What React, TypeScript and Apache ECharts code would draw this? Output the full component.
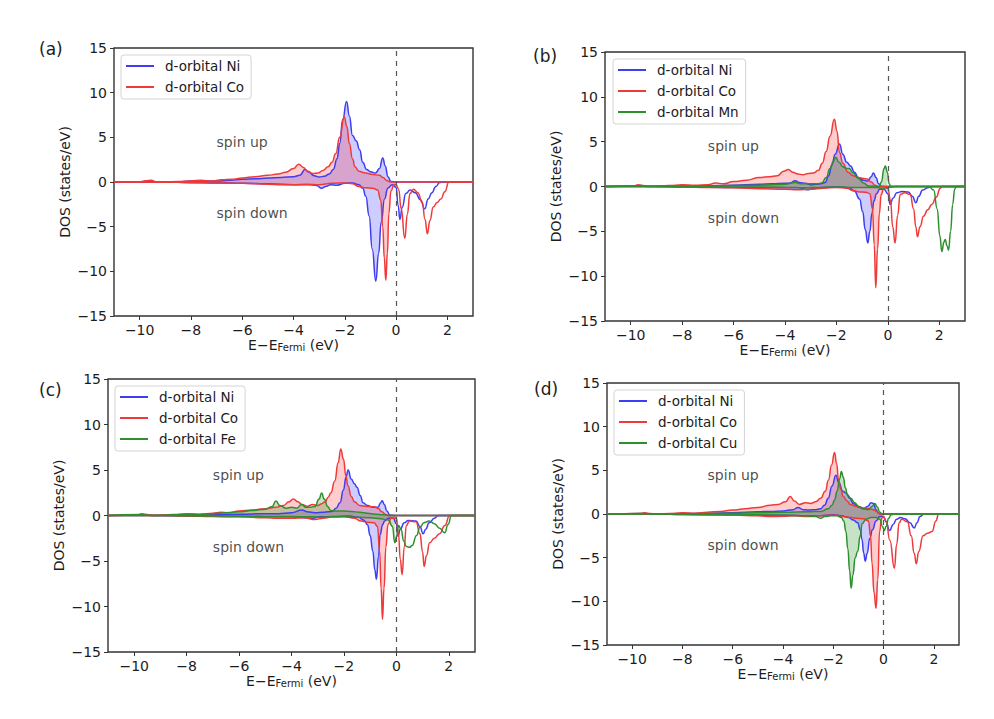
import React, { useEffect, useRef } from "react";
import * as echarts from "echarts";

// ---- projected d-orbital DOS, [E - E_Fermi (eV), DOS (states/eV)] ----

// (a) NiCo
const aNiUp = [[-11,0],[-10.0,0],[-9.7,0.08],[-9.5,0.05],[-9.2,0],[-8.5,0.02],[-8.0,0.1],[-7.5,0.12],[-7.0,0.1],[-6.5,0.2],[-6.0,0.3],[-5.5,0.35],[-5.0,0.45],[-4.5,0.5],[-4.0,0.6],[-3.75,0.75],[-3.55,1.4],[-3.4,1.1],[-3.2,0.7],[-3.0,0.55],[-2.8,0.65],[-2.6,0.9],[-2.45,1.4],[-2.3,2.6],[-2.2,4.3],[-2.08,7.0],[-1.93,9.0],[-1.82,7.4],[-1.7,5.2],[-1.55,4.6],[-1.42,3.6],[-1.3,2.2],[-1.15,1.4],[-1.0,1.15],[-0.8,1.0],[-0.65,1.5],[-0.52,2.7],[-0.42,1.8],[-0.32,0.6],[-0.2,0.05],[0,0],[3,0]];
const aNiDown = [[-11,0],[-9.0,0],[-8.0,-0.08],[-7.0,-0.1],[-6.0,-0.15],[-5.0,-0.2],[-4.0,-0.3],[-3.4,-0.3],[-3.1,-0.4],[-2.9,-0.7],[-2.75,-0.5],[-2.55,-0.3],[-2.3,-0.35],[-2.0,-0.15],[-1.7,-0.1],[-1.45,-0.3],[-1.3,-0.7],[-1.18,-1.6],[-1.05,-3.8],[-0.93,-7.5],[-0.79,-11.1],[-0.68,-8.0],[-0.58,-4.5],[-0.45,-1.9],[-0.32,-0.7],[-0.15,-0.3],[0,-0.6],[0.08,-2.6],[0.15,-4.2],[0.24,-2.8],[0.38,-1.3],[0.55,-0.9],[0.75,-1.2],[0.95,-2.0],[1.12,-3.0],[1.25,-1.9],[1.4,-1.2],[1.55,-0.5],[1.7,-0.05],[1.8,0],[3,0]];
const aCoUp = [[-11,0],[-10.0,0.02],[-9.75,0.15],[-9.55,0.2],[-9.35,0.02],[-9.0,0],[-8.5,0.05],[-8.0,0.12],[-7.6,0.2],[-7.2,0.1],[-6.8,0.25],[-6.4,0.3],[-6.0,0.45],[-5.5,0.6],[-5.0,0.75],[-4.6,0.9],[-4.3,1.1],[-4.0,1.5],[-3.8,2.0],[-3.6,1.6],[-3.45,1.2],[-3.25,0.95],[-3.05,1.0],[-2.85,1.3],[-2.65,1.7],[-2.5,2.2],[-2.35,3.2],[-2.2,5.0],[-2.02,7.3],[-1.92,6.2],[-1.82,4.3],[-1.7,2.6],[-1.6,1.7],[-1.45,1.2],[-1.2,1.0],[-0.9,0.85],[-0.65,0.75],[-0.5,0.5],[-0.38,0.2],[-0.25,0.02],[0,0],[3,0]];
const aCoDown = [[-11,0],[-9.0,-0.02],[-8.0,-0.06],[-7.0,-0.1],[-6.0,-0.15],[-5.0,-0.25],[-4.5,-0.3],[-4.0,-0.3],[-3.5,-0.25],[-3.0,-0.3],[-2.5,-0.15],[-2.0,-0.1],[-1.7,-0.2],[-1.45,-0.5],[-1.2,-0.65],[-0.9,-0.7],[-0.72,-0.9],[-0.6,-2.0],[-0.52,-5.0],[-0.46,-8.5],[-0.4,-11.0],[-0.34,-8.0],[-0.28,-3.5],[-0.2,-1.0],[-0.08,-0.3],[0,-0.3],[0.1,-0.8],[0.2,-3.0],[0.34,-6.3],[0.44,-3.6],[0.54,-1.3],[0.68,-0.8],[0.85,-1.2],[1.02,-2.3],[1.13,-4.2],[1.22,-5.8],[1.32,-4.3],[1.45,-2.8],[1.6,-2.3],[1.75,-1.9],[1.9,-1.1],[2.06,0],[3,0]];

// (b) NiCoMn
const bNiUp = [[-11,0],[-9.7,0.05],[-9.5,0.03],[-9,0],[-8,0.05],[-7,0.08],[-6,0.15],[-5,0.25],[-4.5,0.3],[-4.0,0.35],[-3.8,0.4],[-3.6,0.65],[-3.45,0.45],[-3.2,0.35],[-3.0,0.2],[-2.8,0.25],[-2.6,0.3],[-2.44,0.45],[-2.3,1.2],[-2.18,2.4],[-2.05,3.6],[-1.88,4.75],[-1.75,3.6],[-1.6,2.7],[-1.45,2.3],[-1.3,1.6],[-1.15,1.0],[-0.95,0.7],[-0.78,0.6],[-0.65,1.1],[-0.56,1.5],[-0.46,1.0],[-0.36,0.3],[-0.25,0.02],[0,0],[3,0]];
const bNiDown = [[-11,0],[-9,0],[-8,-0.05],[-6,-0.1],[-4.5,-0.15],[-3.5,-0.15],[-3.1,-0.35],[-2.9,-0.25],[-2.6,-0.1],[-2.2,-0.05],[-1.8,-0.05],[-1.5,-0.15],[-1.3,-0.5],[-1.1,-1.4],[-0.98,-2.8],[-0.88,-4.8],[-0.78,-6.3],[-0.7,-5.0],[-0.62,-3.0],[-0.54,-1.6],[-0.44,-0.8],[-0.32,-0.3],[-0.15,-0.3],[0,-0.8],[0.09,-2.0],[0.2,-1.3],[0.35,-0.7],[0.55,-0.55],[0.8,-0.6],[0.95,-1.1],[1.09,-1.8],[1.2,-1.1],[1.35,-0.4],[1.55,-0.15],[1.7,0],[3,0]];
const bCoUp = [[-11,0],[-9.9,0.05],[-9.7,0.2],[-9.5,0.1],[-9.3,0],[-8.5,0.1],[-8.0,0.2],[-7.5,0.15],[-7.0,0.2],[-6.7,0.4],[-6.4,0.3],[-6.0,0.55],[-5.5,0.7],[-5.0,1.0],[-4.6,1.1],[-4.3,1.2],[-4.05,1.7],[-3.87,1.9],[-3.7,1.6],[-3.5,1.4],[-3.3,1.3],[-3.1,1.45],[-2.9,1.5],[-2.7,1.8],[-2.55,2.6],[-2.4,3.9],[-2.25,5.6],[-2.08,7.5],[-1.98,6.2],[-1.88,3.8],[-1.75,2.6],[-1.55,1.6],[-1.35,1.2],[-1.15,1.0],[-0.95,0.9],[-0.8,0.85],[-0.65,0.5],[-0.5,0.15],[-0.35,0],[0,0],[3,0]];
const bCoDown = [[-11,0],[-9,0],[-8,-0.05],[-7,-0.1],[-6,-0.15],[-5,-0.25],[-4,-0.3],[-3.5,-0.35],[-3.0,-0.3],[-2.5,-0.2],[-2.0,-0.1],[-1.6,-0.2],[-1.35,-0.45],[-1.1,-0.6],[-0.85,-0.65],[-0.7,-0.8],[-0.6,-2.5],[-0.53,-6.5],[-0.47,-11.3],[-0.4,-7.0],[-0.33,-3.0],[-0.26,-0.9],[-0.15,-0.1],[0,-0.2],[0.1,-1.5],[0.19,-4.5],[0.28,-6.3],[0.38,-3.2],[0.48,-0.9],[0.65,-0.7],[0.87,-0.9],[1.0,-2.5],[1.09,-4.5],[1.15,-5.6],[1.25,-4.5],[1.39,-3.3],[1.55,-2.6],[1.71,-2.0],[1.88,-1.2],[2.04,-0.2],[2.1,0],[3,0]];
const bMnUp = [[-11,0],[-9.8,0.05],[-9.6,0.1],[-9.4,0],[-8,0.03],[-7,0.05],[-6,0.1],[-5,0.15],[-4,0.25],[-3.6,0.45],[-3.4,0.3],[-3.0,0.3],[-2.75,0.3],[-2.57,0.4],[-2.4,1.0],[-2.25,2.0],[-2.12,2.8],[-2.03,3.25],[-1.9,2.7],[-1.75,2.2],[-1.6,2.0],[-1.5,2.0],[-1.35,1.5],[-1.15,0.9],[-0.95,0.4],[-0.75,0.05],[-0.35,0],[-0.25,0.5],[-0.15,2.0],[-0.1,2.3],[-0.02,1.6],[0.05,0.3],[0.12,0],[3,0]];
const bMnDown = [[-11,0],[-9,0],[-6,-0.05],[-4,-0.08],[-3.2,-0.15],[-2.8,-0.1],[-2,-0.05],[-1.2,-0.1],[-0.5,-0.1],[-0.2,-0.2],[0,-0.1],[0.3,0],[1.6,0],[1.78,-0.4],[1.92,-2.5],[2.02,-5.5],[2.1,-7.25],[2.18,-6.2],[2.23,-5.9],[2.3,-6.6],[2.36,-7.1],[2.44,-5.0],[2.52,-2.0],[2.6,-0.3],[2.65,0],[3,0]];

// (c) NiCoFe
const cNiUp = [[-11,0],[-9.8,0.05],[-9,0],[-8,0.05],[-7,0.08],[-6,0.15],[-5,0.2],[-4.5,0.2],[-4.0,0.3],[-3.6,0.6],[-3.4,0.4],[-3.1,0.3],[-2.8,0.35],[-2.6,0.4],[-2.45,0.45],[-2.3,0.8],[-2.15,1.4],[-2.02,2.8],[-1.92,4.2],[-1.84,5.0],[-1.72,4.0],[-1.6,3.5],[-1.5,3.1],[-1.38,2.2],[-1.27,1.4],[-1.1,1.1],[-0.9,0.9],[-0.7,0.9],[-0.6,1.4],[-0.54,1.62],[-0.46,1.2],[-0.36,0.5],[-0.25,0.05],[0,0],[3,0]];
const cNiDown = [[-11,0],[-9,0],[-8,-0.05],[-6,-0.1],[-4,-0.15],[-3.2,-0.3],[-2.9,-0.15],[-2.4,-0.1],[-1.8,-0.05],[-1.45,-0.2],[-1.25,-0.5],[-1.1,-1.0],[-1.0,-2.2],[-0.9,-3.9],[-0.82,-6.0],[-0.76,-7.0],[-0.68,-4.5],[-0.62,-2.1],[-0.52,-1.0],[-0.45,-0.6],[-0.3,-0.3],[-0.12,-0.3],[0,-0.9],[0.06,-2.3],[0.15,-1.5],[0.3,-0.8],[0.45,-0.55],[0.75,-0.6],[0.9,-1.2],[1.02,-2.0],[1.12,-1.5],[1.25,-0.8],[1.45,-0.3],[1.6,0],[3,0]];
const cCoUp = [[-11,0],[-9.9,0.05],[-9.7,0.2],[-9.5,0.1],[-9.3,0],[-8.5,0.1],[-8.0,0.2],[-7.5,0.15],[-7.0,0.25],[-6.7,0.35],[-6.4,0.3],[-6.0,0.5],[-5.5,0.6],[-5.0,0.75],[-4.6,0.9],[-4.3,1.1],[-4.1,1.5],[-3.93,1.8],[-3.75,1.5],[-3.6,1.2],[-3.4,1.0],[-3.2,1.2],[-3.0,1.1],[-2.85,1.3],[-2.72,1.5],[-2.6,2.0],[-2.5,2.5],[-2.35,3.8],[-2.22,5.8],[-2.12,7.3],[-2.02,6.2],[-1.92,4.3],[-1.85,3.3],[-1.72,2.1],[-1.6,1.5],[-1.4,1.1],[-1.1,1.0],[-0.85,0.95],[-0.7,0.8],[-0.55,0.4],[-0.4,0.1],[-0.28,0],[0,0],[3,0]];
const cCoDown = [[-11,0],[-9,0],[-8,-0.05],[-7,-0.1],[-6,-0.15],[-5,-0.25],[-4.5,-0.3],[-4,-0.3],[-3.5,-0.25],[-3.1,-0.45],[-2.8,-0.3],[-2.4,-0.15],[-2.0,-0.1],[-1.6,-0.3],[-1.35,-0.6],[-1.1,-0.75],[-0.85,-0.8],[-0.72,-1.2],[-0.64,-3.9],[-0.58,-8.0],[-0.53,-11.4],[-0.47,-8.0],[-0.4,-3.5],[-0.32,-1.0],[-0.2,-0.3],[0,-0.3],[0.08,-2.0],[0.15,-4.8],[0.22,-6.5],[0.3,-3.5],[0.38,-1.1],[0.5,-0.6],[0.75,-0.7],[0.9,-2.0],[1.0,-4.0],[1.06,-5.6],[1.15,-4.4],[1.27,-3.0],[1.45,-2.5],[1.65,-2.0],[1.85,-1.1],[2.03,0],[3,0]];
const cFeUp = [[-11,0],[-9.8,0.1],[-9.6,0.05],[-9.3,0],[-8.5,0.08],[-8,0.15],[-7.5,0.12],[-7,0.2],[-6.5,0.3],[-6,0.4],[-5.5,0.55],[-5.0,0.7],[-4.75,0.95],[-4.59,1.6],[-4.45,1.1],[-4.2,0.8],[-4.0,0.9],[-3.8,0.8],[-3.61,1.2],[-3.45,0.9],[-3.3,0.9],[-3.1,1.0],[-2.95,1.8],[-2.85,2.47],[-2.75,1.8],[-2.62,1.0],[-2.5,0.55],[-2.3,0.5],[-2.0,0.5],[-1.7,0.45],[-1.4,0.35],[-1.1,0.25],[-0.8,0.15],[-0.5,0.08],[-0.3,0],[0,0],[3,0]];
const cFeDown = [[-11,0],[-9,0],[-7,-0.05],[-5,-0.1],[-4,-0.1],[-3.2,-0.15],[-2.9,-0.2],[-2.5,-0.15],[-2,-0.15],[-1.5,-0.2],[-1.0,-0.25],[-0.6,-0.35],[-0.3,-0.5],[-0.15,-1.2],[-0.06,-3.0],[0.02,-2.2],[0.08,-1.1],[0.18,-1.5],[0.28,-2.8],[0.38,-3.4],[0.5,-3.5],[0.6,-3.3],[0.77,-2.2],[0.9,-1.3],[1.05,-0.8],[1.25,-0.6],[1.45,-0.9],[1.65,-1.4],[1.85,-1.9],[1.97,-1.0],[2.1,0],[3,0]];

// (d) NiCoCu
const dNiUp = [[-11,0],[-9.5,0.05],[-9,0],[-8,0.05],[-7,0.08],[-6,0.15],[-5,0.25],[-4.5,0.3],[-4,0.35],[-3.6,0.5],[-3.4,0.75],[-3.2,0.5],[-3.0,0.45],[-2.7,0.5],[-2.5,0.6],[-2.35,1.0],[-2.2,1.8],[-2.05,3.2],[-1.9,4.45],[-1.78,3.6],[-1.62,2.6],[-1.49,2.4],[-1.35,1.8],[-1.2,1.2],[-1.0,0.8],[-0.8,0.6],[-0.62,0.9],[-0.5,1.3],[-0.4,1.2],[-0.3,0.5],[-0.2,0.1],[-0.1,0],[0,0],[3,0]];
const dNiDown = [[-11,0],[-9,0],[-8,-0.05],[-6,-0.1],[-4,-0.15],[-3,-0.2],[-2.5,-0.2],[-2.0,-0.1],[-1.7,-0.2],[-1.4,-0.4],[-1.2,-0.7],[-1.03,-1.0],[-0.93,-1.8],[-0.86,-2.9],[-0.79,-4.5],[-0.73,-5.4],[-0.65,-4.5],[-0.55,-2.8],[-0.44,-1.8],[-0.3,-0.8],[-0.15,-0.3],[0,-0.3],[0.1,-0.9],[0.24,-1.9],[0.38,-1.2],[0.52,-0.6],[0.67,-0.4],[0.85,-0.55],[1.05,-1.0],[1.22,-1.6],[1.33,-1.0],[1.45,-0.3],[1.6,0],[3,0]];
const dCoUp = [[-11,0],[-9.7,0.05],[-9.5,0.15],[-9.3,0.05],[-9,0],[-8.5,0.05],[-8,0.15],[-7.5,0.1],[-7,0.2],[-6.5,0.3],[-6.0,0.45],[-5.5,0.6],[-5.0,0.75],[-4.5,1.0],[-4.2,1.1],[-3.9,1.4],[-3.71,2.0],[-3.55,1.5],[-3.35,1.1],[-3.1,1.3],[-2.9,1.2],[-2.7,1.4],[-2.5,1.8],[-2.32,2.6],[-2.19,3.9],[-2.07,5.6],[-1.95,7.05],[-1.87,5.8],[-1.79,3.9],[-1.7,2.8],[-1.6,2.0],[-1.45,1.5],[-1.33,1.1],[-1.1,0.9],[-0.8,0.7],[-0.55,0.6],[-0.4,0.5],[-0.28,0.3],[-0.15,0],[0,0],[3,0]];
const dCoDown = [[-11,0],[-9,0],[-8,-0.05],[-7,-0.08],[-6,-0.12],[-5,-0.2],[-4.5,-0.3],[-4,-0.25],[-3.5,-0.2],[-3,-0.3],[-2.6,-0.2],[-2.2,-0.15],[-1.9,-0.15],[-1.6,-0.3],[-1.3,-0.4],[-1.05,-0.5],[-0.8,-0.55],[-0.6,-0.8],[-0.52,-2.5],[-0.46,-5.6],[-0.38,-9.0],[-0.3,-10.8],[-0.23,-7.5],[-0.16,-2.0],[-0.07,-0.5],[0,-0.3],[0.1,-0.8],[0.25,-3.0],[0.43,-6.2],[0.52,-3.5],[0.62,-1.0],[0.72,-0.6],[0.95,-0.9],[1.1,-2.5],[1.22,-4.5],[1.3,-5.7],[1.4,-4.3],[1.57,-2.5],[1.75,-2.2],[1.93,-2.0],[2.08,-0.8],[2.19,0],[3,0]];
const dCuUp = [[-11,0],[-9.6,0.05],[-9.3,0],[-8,0.03],[-7,0.05],[-6,0.08],[-5,0.15],[-4,0.2],[-3,0.25],[-2.5,0.3],[-2.2,0.6],[-2.05,1.0],[-1.95,1.6],[-1.85,2.6],[-1.75,4.0],[-1.68,4.88],[-1.6,4.2],[-1.52,3.0],[-1.44,2.2],[-1.3,1.8],[-1.15,1.3],[-1.0,0.9],[-0.8,0.6],[-0.6,0.5],[-0.45,0.9],[-0.35,1.2],[-0.25,0.8],[-0.15,0.2],[-0.05,0],[0,0],[3,0]];
const dCuDown = [[-11,0],[-9,0],[-7,-0.05],[-5,-0.1],[-4,-0.15],[-3,-0.2],[-2.7,-0.3],[-2.5,-0.5],[-2.35,-0.3],[-2.1,-0.2],[-1.85,-0.2],[-1.68,-0.4],[-1.58,-0.8],[-1.5,-2.0],[-1.42,-4.0],[-1.35,-6.5],[-1.29,-8.5],[-1.22,-7.0],[-1.13,-5.0],[-1.03,-4.3],[-0.93,-2.5],[-0.85,-1.1],[-0.7,-0.6],[-0.5,-0.4],[-0.3,-0.4],[-0.15,-0.6],[-0.05,-1.4],[0.03,-1.9],[0.1,-1.4],[0.2,-0.5],[0.3,-0.1],[0.45,0],[3,0]];

// axes
const X_TICKS = [-10, -8, -6, -4, -2, 0, 2];
const X_RANGE = [-11, 3];
const Y_RANGE = [-15, 15];
const Y_STEP = 5;
const SPIN_UP_AT = [-7.0, 4.5];
const SPIN_DOWN_AT = [-7.0, -3.5];
const PANEL_TAGS = ["(a)", "(b)", "(c)", "(d)"];

const ELEMENTS: Record<string, { label: string; line: string; fill: string }> = {
  Ni: { label: "d-orbital Ni", line: "#3d3df2", fill: "rgba(0,0,255,0.28)" },
  Co: { label: "d-orbital Co", line: "#f03a3a", fill: "rgba(255,0,0,0.28)" },
  Mn: { label: "d-orbital Mn", line: "#2f8f2f", fill: "rgba(0,128,0,0.32)" },
  Fe: { label: "d-orbital Fe", line: "#2f8f2f", fill: "rgba(0,128,0,0.32)" },
  Cu: { label: "d-orbital Cu", line: "#2f8f2f", fill: "rgba(0,128,0,0.32)" },
};

const PANEL_DATA = [
  [{ el: "Ni", up: aNiUp, down: aNiDown }, { el: "Co", up: aCoUp, down: aCoDown }],
  [{ el: "Ni", up: bNiUp, down: bNiDown }, { el: "Co", up: bCoUp, down: bCoDown }, { el: "Mn", up: bMnUp, down: bMnDown }],
  [{ el: "Ni", up: cNiUp, down: cNiDown }, { el: "Co", up: cCoUp, down: cCoDown }, { el: "Fe", up: cFeUp, down: cFeDown }],
  [{ el: "Ni", up: dNiUp, down: dNiDown }, { el: "Co", up: dCoUp, down: dCoDown }, { el: "Cu", up: dCuUp, down: dCuDown }],
];

// panel geometry in page pixels
const LAYOUT = [
  { left: 114, top: 48, width: 359, height: 268, tagX: 39, tagY: 40, legX: 121, legY: 55 },
  { left: 605, top: 52, width: 360, height: 269, tagX: 533, tagY: 47, legX: 613, legY: 59 },
  { left: 108, top: 379, width: 367, height: 273, tagX: 39, tagY: 381, legX: 115, legY: 386 },
  { left: 607, top: 383, width: 352, height: 262, tagX: 534, tagY: 380, legX: 614, legY: 390 },
];

const FONT = '"DejaVu Sans", "Liberation Sans", sans-serif';
const INK = "#1c1c1c";
const SMOOTH = 0.5;
const minus = (v: number) => (v < 0 ? "\u2212" + Math.abs(v) : String(v));

function buildOption() {
  const grid: any[] = [];
  const xAxis: any[] = [];
  const yAxis: any[] = [];
  const legend: any[] = [];
  const series: any[] = [];
  const graphic: any[] = [];

  LAYOUT.forEach((g, i) => {
    grid.push({
      left: g.left, top: g.top, width: g.width, height: g.height,
      show: true, borderColor: "#333", borderWidth: 1.4, backgroundColor: "transparent",
    });
    xAxis.push({
      type: "value", gridIndex: i, min: X_RANGE[0], max: X_RANGE[1],
      axisLine: { show: false, onZero: false },
      axisTick: { show: true, length: 4, customValues: X_TICKS, lineStyle: { color: "#333", width: 1 } },
      axisLabel: { customValues: X_TICKS, formatter: minus, fontSize: 14, fontFamily: FONT, color: INK, margin: 7 },
      splitLine: { show: false },
      name: "{n|E\u2212E}{s|Fermi}{n| (eV)}",
      nameLocation: "middle", nameGap: 22,
      nameTextStyle: {
        rich: {
          n: { fontSize: 14, fontFamily: FONT, color: INK },
          s: { fontSize: 10, fontFamily: FONT, color: INK, verticalAlign: "bottom", padding: [4, 0, 0, 0] },
        },
      },
    });
    yAxis.push({
      type: "value", gridIndex: i, min: Y_RANGE[0], max: Y_RANGE[1], interval: Y_STEP,
      axisLine: { show: false, onZero: false },
      axisTick: { show: true, length: 4, lineStyle: { color: "#333", width: 1 } },
      axisLabel: { formatter: minus, fontSize: 14, fontFamily: FONT, color: INK, margin: 7 },
      splitLine: { show: false },
      name: "DOS (states/eV)", nameLocation: "middle", nameGap: 42,
      nameTextStyle: { fontSize: 14, fontFamily: FONT, color: INK },
    });

    const parts = PANEL_DATA[i];

    // occupied states (E <= E_Fermi) are shaded
    parts.forEach((p, k) => {
      const el = ELEMENTS[p.el];
      [p.up, p.down].forEach((d, s) => {
        series.push({
          type: "line", name: `${el.label} occupied ${s}`, xAxisIndex: i, yAxisIndex: i,
          data: d.filter((pt) => pt[0] <= 0),
          smooth: SMOOTH, smoothMonotone: "x", symbol: "none", silent: true,
          lineStyle: { width: 0 }, areaStyle: { color: el.fill }, z: 1,
          ...(k === 0 && s === 0
            ? {
                markLine: {
                  silent: true, symbol: ["none", "none"], label: { show: false },
                  lineStyle: { color: "#555", type: [5, 5], width: 1.2 },
                  data: [{ xAxis: 0 }],
                },
              }
            : {}),
        });
      });
    });

    parts.forEach((p) => {
      const el = ELEMENTS[p.el];
      [p.up, p.down].forEach((d) => {
        series.push({
          type: "line", name: el.label, xAxisIndex: i, yAxisIndex: i, data: d,
          smooth: SMOOTH, smoothMonotone: "x", symbol: "none", silent: true,
          lineStyle: { color: el.line, width: 1.5 }, itemStyle: { color: el.line }, z: 3,
        });
      });
    });

    series.push({
      type: "scatter", xAxisIndex: i, yAxisIndex: i, symbolSize: 0, silent: true,
      data: [[SPIN_UP_AT[0], SPIN_UP_AT[1], "spin up"], [SPIN_DOWN_AT[0], SPIN_DOWN_AT[1], "spin down"]],
      label: {
        show: true, position: "right", distance: 0, formatter: (p: any) => p.value[2],
        fontSize: 14, fontFamily: FONT, color: INK,
      },
      z: 4,
    });

    legend.push({
      left: g.legX, top: g.legY, orient: "vertical", selectedMode: false,
      data: parts.map((p) => ELEMENTS[p.el].label),
      icon: "rect", itemWidth: 28, itemHeight: 2, itemGap: 7,
      padding: [4, 7, 5, 5],
      borderColor: "#d4d4d4", borderWidth: 1, borderRadius: 3,
      backgroundColor: "rgba(255,255,255,0.85)",
      textStyle: { fontSize: 13.5, fontFamily: FONT, color: INK, padding: [0, 0, 0, 6] },
      z: 10,
    });

    graphic.push({
      type: "text", left: g.tagX, top: g.tagY,
      style: { text: PANEL_TAGS[i], fontSize: 17, fontFamily: FONT, fill: INK },
    });
  });

  return { animation: false, backgroundColor: "#fff", grid, xAxis, yAxis, legend, series, graphic };
}

export default function App() {
  const ref = useRef<HTMLDivElement>(null);
  useEffect(() => {
    if (!ref.current) return;
    const chart = echarts.init(ref.current, undefined, { renderer: "svg" });
    chart.setOption(buildOption() as any);
    return () => chart.dispose();
  }, []);
  return (
    <div
      ref={ref}
      style={{ position: "fixed", left: 0, top: 0, width: 994, height: 719, background: "#fff" }}
    />
  );
}
